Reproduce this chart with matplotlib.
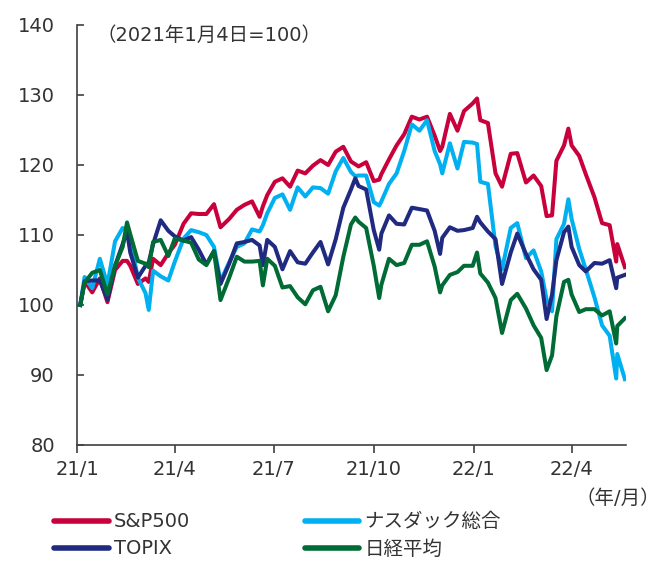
import matplotlib
matplotlib.use("Agg")
import matplotlib.pyplot as plt
import pandas as pd

plt.rcParams["font.family"] = ["DejaVu Sans", "Noto Sans CJK JP"]

# 2021年1月4日=100 として指数化（目視で読み取り）
dates = [
    "2021-01-04", "2021-01-08", "2021-01-15", "2021-01-22", "2021-01-29",
    "2021-02-05", "2021-02-12", "2021-02-16", "2021-02-19", "2021-02-26",
    "2021-03-05", "2021-03-08", "2021-03-12", "2021-03-19", "2021-03-26",
    "2021-04-01", "2021-04-09", "2021-04-16", "2021-04-23", "2021-04-30",
    "2021-05-07", "2021-05-13", "2021-05-21", "2021-05-28", "2021-06-04",
    "2021-06-11", "2021-06-18", "2021-06-21", "2021-06-25", "2021-07-02",
    "2021-07-09", "2021-07-16", "2021-07-23", "2021-07-30", "2021-08-06",
    "2021-08-13", "2021-08-20", "2021-08-27", "2021-09-03", "2021-09-10",
    "2021-09-14", "2021-09-17", "2021-09-24", "2021-10-01", "2021-10-06",
    "2021-10-08", "2021-10-15", "2021-10-22", "2021-10-29", "2021-11-05",
    "2021-11-12", "2021-11-19", "2021-11-26", "2021-12-01", "2021-12-03",
    "2021-12-10", "2021-12-17", "2021-12-23", "2021-12-31", "2022-01-04",
    "2022-01-07", "2022-01-14", "2022-01-21", "2022-01-27", "2022-02-04",
    "2022-02-10", "2022-02-18", "2022-02-25", "2022-03-04", "2022-03-09",
    "2022-03-14", "2022-03-18", "2022-03-25", "2022-03-29", "2022-04-01",
    "2022-04-08", "2022-04-14", "2022-04-22", "2022-04-29", "2022-05-06",
    "2022-05-12", "2022-05-13", "2022-05-20",
]

sp500 = [
    100.0, 103.4, 101.8, 103.8, 100.4,
    105.0, 106.3, 106.3, 105.6, 103.0,
    103.8, 103.3, 106.6, 105.7, 107.4,
    108.6, 111.6, 113.1, 113.0, 113.0,
    114.4, 111.1, 112.3, 113.6, 114.3,
    114.8, 112.6, 114.1, 115.7, 117.6,
    118.1, 116.9, 119.2, 118.8, 119.9,
    120.7, 120.0, 121.9, 122.6, 120.5,
    120.1, 119.8, 120.4, 117.7, 117.9,
    118.7, 120.8, 122.8, 124.4, 126.9,
    126.5, 126.9, 124.2, 122.0, 122.6,
    127.3, 124.9, 127.7, 128.8, 129.5,
    126.4, 126.0, 118.8, 116.9, 121.6,
    121.7, 117.5, 118.5, 117.0, 112.7,
    112.8, 120.6, 122.8, 125.2, 122.8,
    121.3, 118.7, 115.4, 111.7, 111.4,
    106.2, 108.7, 105.4,
]

nasdaq = [
    100.0, 104.0, 102.4, 106.6, 102.9,
    109.1, 111.0, 110.6, 109.3, 103.9,
    101.7, 99.3, 104.9, 104.1, 103.5,
    106.2, 109.5, 110.7, 110.4, 110.0,
    108.3, 103.4, 106.1, 108.3, 108.8,
    110.8, 110.5, 111.4, 113.1, 115.3,
    115.8, 113.6, 116.8, 115.5, 116.8,
    116.7, 115.9, 119.1, 121.0, 119.0,
    118.4, 118.5, 118.5, 114.7, 114.2,
    114.8, 117.3, 118.8, 122.0, 125.8,
    124.9, 126.4, 122.0, 120.1, 118.8,
    123.1, 119.5, 123.3, 123.2, 123.0,
    117.6, 117.3, 108.4, 105.1, 111.0,
    111.7, 106.7, 107.8, 104.8, 100.8,
    99.1, 109.4, 111.6, 115.1, 112.3,
    108.0, 105.1, 101.1, 97.1, 95.6,
    89.5, 93.0, 89.4,
]

topix = [
    100.0, 103.4, 103.5, 103.5, 100.8,
    105.6, 108.7, 110.5, 107.5, 103.9,
    105.6, 106.1, 108.7, 112.1, 110.6,
    109.8, 109.2, 109.7, 107.9, 105.8,
    107.7, 103.0, 105.9, 108.8, 109.0,
    109.3, 108.5, 105.7, 109.3, 108.3,
    105.1, 107.7, 106.1, 105.9, 107.5,
    109.0, 105.8, 109.4, 113.9, 116.5,
    118.1, 117.0, 116.5, 110.7, 107.9,
    110.2, 112.8, 111.6, 111.5, 113.9,
    113.7, 113.5, 110.6, 107.3, 109.6,
    111.1, 110.6, 110.7, 111.0, 112.6,
    111.8, 110.5, 109.4, 103.0, 107.5,
    110.2, 107.3, 105.1, 103.6, 98.0,
    101.5, 106.4, 110.4, 111.2, 108.3,
    105.7, 104.8, 106.0, 105.9, 106.4,
    102.4, 103.9, 104.3,
]

nikkei = [
    100.0, 103.2, 104.6, 105.0, 101.5,
    105.6, 108.3, 111.8, 110.1, 106.3,
    105.9, 105.4, 109.0, 109.3, 107.0,
    109.5, 109.2, 108.9, 106.5, 105.7,
    107.7, 100.7, 103.9, 106.9, 106.2,
    106.2, 106.3, 102.8, 106.6, 105.6,
    102.5, 102.7, 101.1, 100.1, 102.1,
    102.6, 99.1, 101.4, 106.9, 111.5,
    112.5, 111.9, 111.0, 105.6, 101.0,
    102.9, 106.6, 105.7, 106.0, 108.6,
    108.6, 109.1, 105.5, 101.8, 102.8,
    104.3, 104.7, 105.6, 105.6, 107.5,
    104.5, 103.2, 101.0, 96.0, 100.7,
    101.6, 99.5, 97.1, 95.3, 90.7,
    92.8, 98.4, 103.3, 103.6, 101.5,
    99.0, 99.4, 99.4, 98.5, 99.1,
    94.5, 97.0, 98.1,
]

tick_dates = ["2021-01-01", "2021-04-01", "2021-07-01", "2021-10-01", "2022-01-01", "2022-04-01"]
tick_labels = ["21/1", "21/4", "21/7", "21/10", "22/1", "22/4"]
yticks = [80, 90, 100, 110, 120, 130, 140]

series = [
    ("S&P500", sp500, "#C8003C"),
    ("ナスダック総合", nasdaq, "#00B0F0"),
    ("TOPIX", topix, "#1F2A80"),
    ("日経平均", nikkei, "#006B35"),
]

x = pd.to_datetime(dates)

fig = plt.figure(figsize=(6.61, 5.63), dpi=100)
ax = fig.add_axes([0.1165, 0.2096, 0.8305, 0.746])

lines = {}
for name, vals, color in series:
    (ln,) = ax.plot(x, vals, color=color, lw=2.9, label=name, solid_joinstyle="round")
    lines[name] = ln

ax.set_xlim(pd.Timestamp("2021-01-01"), pd.Timestamp("2022-05-21"))
ax.set_ylim(80, 140)
ax.set_yticks(yticks)
ax.set_xticks(pd.to_datetime(tick_dates))
ax.set_xticklabels(tick_labels)

for s in ["top", "right"]:
    ax.spines[s].set_visible(False)
for s in ["left", "bottom"]:
    ax.spines[s].set_color("#404040")
    ax.spines[s].set_linewidth(1.2)

ax.tick_params(axis="y", direction="in", length=5, width=1.2, color="#404040",
               pad=16, labelsize=14, labelcolor="#333333")
ax.tick_params(axis="x", direction="out", length=6, width=1.2, color="#404040",
               pad=5, labelsize=14, labelcolor="#333333")

ax.text(0.035, 0.975, "（2021年1月4日=100）", transform=ax.transAxes,
        fontsize=14, color="#333333", ha="left", va="center")
fig.text(0.999, 0.115, "（年/月）", fontsize=14, color="#333333", ha="right", va="center")

# 凡例は2列（左: S&P500, TOPIX / 右: ナスダック総合, 日経平均）
order = ["S&P500", "TOPIX", "ナスダック総合", "日経平均"]
leg = fig.legend([lines[n] for n in order], order, ncol=2, loc="upper left",
                 bbox_to_anchor=(0.082, 0.090), frameon=False, fontsize=14,
                 handlelength=2.8, handletextpad=0.26, columnspacing=5.9,
                 labelspacing=0.42, borderpad=0, borderaxespad=0)
for h in leg.get_lines():
    h.set_linewidth(4.0)
    h.set_solid_capstyle("round")
for t in leg.get_texts():
    t.set_color("#333333")

fig.savefig("out.png", dpi=100)
